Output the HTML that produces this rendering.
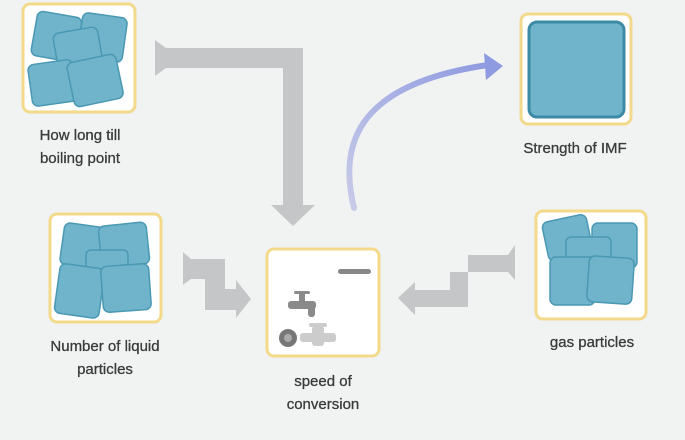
<!DOCTYPE html>
<html><head><meta charset="utf-8"><style>
html,body{margin:0;padding:0;background:#f1f3f3;}
svg{display:block}
text{font-family:"Liberation Sans",sans-serif;font-size:15px;fill:#3a3a3a;text-anchor:middle;stroke:#3a3a3a;stroke-width:0.3px;}
</style></head><body>
<svg width="685" height="440" viewBox="0 0 685 440" xmlns="http://www.w3.org/2000/svg">
<rect width="685" height="440" fill="#f1f3f3"/>
<defs>
<linearGradient id="bg" x1="0" y1="1" x2="1" y2="0"><stop offset="0" stop-color="#c8cbe8"/><stop offset="1" stop-color="#8f9be0"/></linearGradient>
</defs>
<g fill="#c4c6c7">
<polygon points="155,40 166,48 303,48 303,205 315,205 293,226 271,205 283,205 283,68 166,68 155,76"/>
<polygon points="183,252 191,259 225,259 225,289 236,289 236,280 251,299 236,318 236,310 205,310 205,279 191,279 183,285"/>
<polygon points="515,245 508,255 468,255 468,307 415,307 415,315 398,298 415,282 415,290 450,290 450,272 508,272 515,280"/>
</g>
<path d="M354,208 C340,150 350,85 488,65" stroke="url(#bg)" stroke-width="6" fill="none" stroke-linecap="round"/>
<polygon points="484,53 503,66 486,80" fill="#8f9be0"/>
<g fill="#fff" stroke="#f3d98a" stroke-width="3">
<rect x="23" y="4" width="112" height="108" rx="7"/>
<rect x="50" y="214" width="111" height="108" rx="7"/>
<rect x="267" y="249" width="112" height="107" rx="7"/>
<rect x="521" y="14" width="110" height="110" rx="7"/>
<rect x="536" y="211" width="110" height="108" rx="7"/>
</g>
<g fill="#6fb4cb" stroke="#4a98b3" stroke-width="1.5">
<rect x="34" y="14" width="45" height="45" rx="6" transform="rotate(10 56 36)"/>
<rect x="80" y="15" width="45" height="45" rx="6" transform="rotate(8 102 37)"/>
<rect x="55" y="30" width="45" height="35" rx="6" transform="rotate(-10 77 47)"/>
<rect x="30" y="62" width="45" height="42" rx="6" transform="rotate(-8 52 83)"/>
<rect x="70" y="58" width="50" height="45" rx="6" transform="rotate(-12 95 80)"/>
<rect x="62" y="225" width="42" height="42" rx="6" transform="rotate(8 83 246)"/>
<rect x="100" y="224" width="48" height="42" rx="6" transform="rotate(-6 124 245)"/>
<rect x="86" y="250" width="42" height="25" rx="5"/>
<rect x="57" y="266" width="45" height="50" rx="6" transform="rotate(8 80 291)"/>
<rect x="102" y="265" width="48" height="46" rx="6" transform="rotate(-4 126 288)"/>
<rect x="529" y="22" width="95" height="95" rx="8" stroke="#3d8aa6" stroke-width="3"/>
<rect x="545" y="218" width="45" height="40" rx="6" transform="rotate(-12 567 238)"/>
<rect x="592" y="223" width="45" height="45" rx="6"/>
<rect x="566" y="237" width="45" height="22" rx="5"/>
<rect x="550" y="257" width="45" height="48" rx="6"/>
<rect x="588" y="257" width="45" height="46" rx="6" transform="rotate(4 610 280)"/>
</g>
<rect x="338" y="269" width="33" height="5" rx="2.5" fill="#888"/>
<g fill="#8a8a8a">
<rect x="288" y="301" width="28" height="8" rx="3"/>
<rect x="299" y="292" width="6" height="10"/>
<rect x="294" y="291" width="16" height="3" rx="1.5"/>
<rect x="308" y="305" width="7" height="12" rx="3"/>
</g>
<circle cx="288" cy="338" r="9" fill="#777"/><circle cx="288" cy="338" r="4" fill="#aaa"/>
<g fill="#ccc"><rect x="300" y="333" width="36" height="9" rx="3"/><rect x="312" y="326" width="12" height="20" rx="3"/><rect x="309" y="323" width="18" height="4" rx="2"/></g>
<text x="80" y="140">How long till</text>
<text x="80" y="163">boiling point</text>
<text x="105" y="351">Number of liquid</text>
<text x="105" y="374">particles</text>
<text x="323" y="386">speed of</text>
<text x="323" y="409">conversion</text>
<text x="575" y="153">Strength of IMF</text>
<text x="592" y="347">gas particles</text>
</svg>
</body></html>
